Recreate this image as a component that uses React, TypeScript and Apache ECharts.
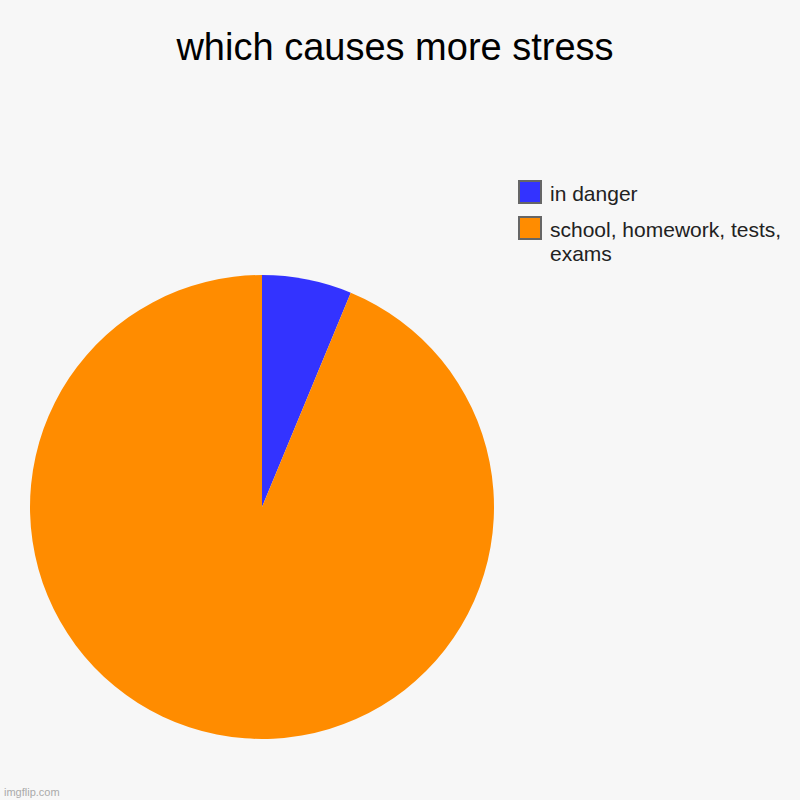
import React, { useEffect, useRef } from "react";
import * as echarts from "echarts";

const TITLE = "which causes more stress";
const categories = ["in danger", "school, homework, tests, exams"];
const legendLines = [["in danger"], ["school, homework, tests,", "exams"]];
const values = [1, 15];
const colors = ["#3333ff", "#ff8c00"];
const WATERMARK = "imgflip.com";

export default function App() {
  const ref = useRef<HTMLDivElement>(null);
  useEffect(() => {
    document.body.style.margin = "0";
    const chart = echarts.init(ref.current!, null, { renderer: "svg" });
    const font = "'Liberation Sans', Arial, sans-serif";
    const legendEls: any[] = [];
    const boxY = [181, 217];
    legendLines.forEach((lines, i) => {
      const y = boxY[i];
      legendEls.push({
        type: "rect",
        shape: { x: 519, y: y, width: 22, height: 22 },
        style: { fill: colors[i], stroke: "#666", lineWidth: 2 },
      });
      lines.forEach((ln, j) => {
        legendEls.push({
          type: "text",
          x: 550,
          y: y + 12.5 + j * 24,
          style: {
            text: ln,
            font: `21px ${font}`,
            fill: "#222",
            verticalAlign: "middle",
            textAlign: "left",
          },
        });
      });
    });
    chart.setOption({
      animation: false,
      backgroundColor: "#f7f7f7",
      graphic: [
        {
          type: "text",
          x: 395,
          y: 47,
          style: {
            text: TITLE,
            font: `38px ${font}`,
            fill: "#000",
            textAlign: "center",
            verticalAlign: "middle",
          },
        },
        ...legendEls,
        {
          type: "text",
          x: 4,
          y: 792,
          style: {
            text: WATERMARK,
            font: `11px ${font}`,
            fill: "#aaa",
            textAlign: "left",
            verticalAlign: "middle",
          },
        },
      ],
      series: [
        {
          type: "pie",
          center: [262, 507],
          radius: 232,
          startAngle: 90,
          clockwise: true,
          label: { show: false },
          labelLine: { show: false },
          emphasis: { disabled: true },
          data: categories.map((c, i) => ({
            name: c,
            value: values[i],
            itemStyle: { color: colors[i] },
          })),
        },
      ],
    });
    return () => chart.dispose();
  }, []);
  return <div ref={ref} style={{ width: 800, height: 800 }} />;
}
